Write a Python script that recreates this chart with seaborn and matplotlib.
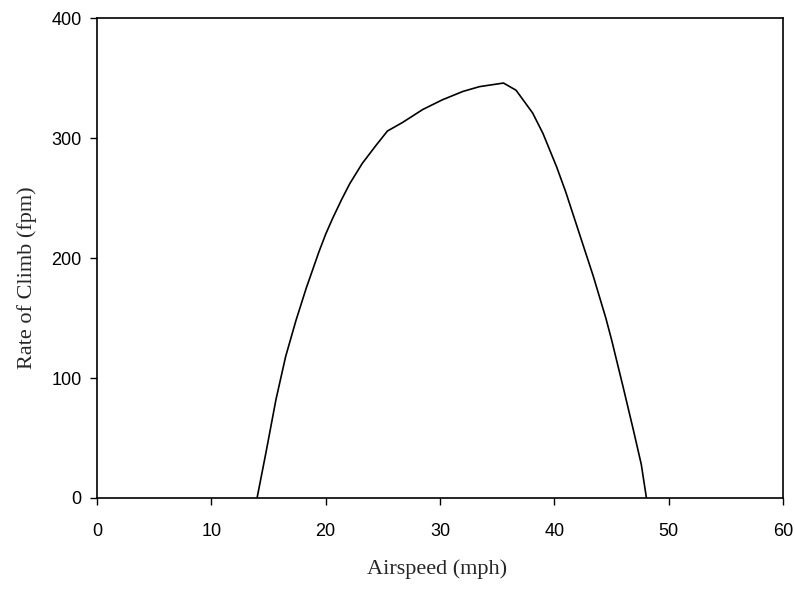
import matplotlib
matplotlib.use("Agg")
import matplotlib.pyplot as plt
import seaborn as sns
import pandas as pd

# Rate of climb versus airspeed
airspeed = [14.0, 14.8, 15.65, 16.5, 17.4, 18.3, 19.4, 20.0, 20.6, 21.4, 22.1,
            23.2, 24.4, 25.4, 26.7, 28.5, 30.2, 32.0, 33.45, 35.55, 36.65,
            38.1, 39.0, 40.2, 41.0, 42.2, 43.4, 44.5, 45.0, 46.0, 46.9, 47.6,
            48.05]
rate_of_climb = [0, 39, 82, 118, 148, 175, 205, 220, 233, 249, 262,
                 279, 294, 306, 313, 324, 332, 339, 343, 346, 340,
                 321, 304, 276, 255, 220, 185, 150, 132, 93, 57, 28,
                 0]

x_ticks = [0, 10, 20, 30, 40, 50, 60]
y_ticks = [0, 100, 200, 300, 400]

df = pd.DataFrame({"Airspeed": airspeed, "Rate": rate_of_climb})

sns.set_style("ticks")
plt.rcParams["font.family"] = ["Liberation Sans", "DejaVu Sans"]

fig = plt.figure(figsize=(7.95, 5.90), dpi=100)
ax = fig.add_axes([0.122, 0.156, 0.863, 0.813])

sns.lineplot(data=df, x="Airspeed", y="Rate", ax=ax, color="black",
             linewidth=1.2, sort=False, estimator=None)

ax.set_xlim(0, 60)
ax.set_ylim(0, 400)
ax.set_xticks(x_ticks)
ax.set_yticks(y_ticks)

for side in ["top", "right", "bottom", "left"]:
    ax.spines[side].set_visible(True)
    ax.spines[side].set_color("black")
    ax.spines[side].set_linewidth(1.2)

ax.tick_params(axis="x", direction="out", length=5, width=1, pad=13,
               labelsize=13, colors="black")
ax.tick_params(axis="y", direction="out", length=5, width=1, pad=6,
               labelsize=13, colors="black")

serif = ["Liberation Serif", "DejaVu Serif"]
ax.set_xlabel("Airspeed (mph)", fontsize=16, family=serif)
ax.set_ylabel("Rate of Climb (fpm)", fontsize=16, family=serif)
ax.xaxis.set_label_coords(0.495, -0.128)
ax.yaxis.set_label_coords(-0.088, 0.46)

fig.savefig("out.png", dpi=100, facecolor="white")
